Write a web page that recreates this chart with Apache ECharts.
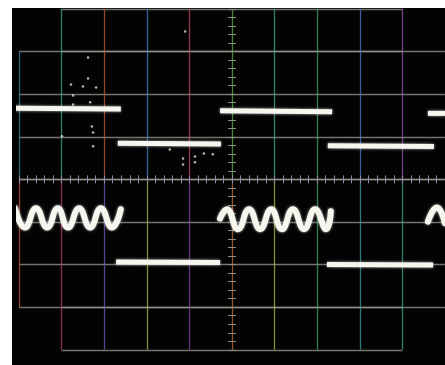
<!DOCTYPE html>
<html>
<head>
<meta charset="utf-8">
<script src="https://cdn.jsdelivr.net/npm/echarts@6/dist/echarts.min.js"></script>
<style>
	html, body { margin: 0; padding: 0; background: #fff; }
	#screen { position: absolute; left: 12px; top: 8px; width: 433px; height: 357px; background: #030303; }
	#main { position: absolute; left: 0; top: 0; width: 445px; height: 365px; }
</style>
</head>
<body>
<div id="screen"></div>
<div id="main"></div>
<script>
	// upper trace: square wave, one entry per visible flat segment (divisions)
	const squareX0 = [-5.12, -2.68, -0.28, 2.25, 4.60];
	const squareX1 = [-2.61, -0.26, 2.35, 4.74, 5.00];
	const squareY0 = [1.67, 0.85, 1.61, 0.79, 1.55];
	const squareY1 = [1.65, 0.83, 1.59, 0.77, 1.55];

	// lower trace: tone bursts (peaks / troughs)
	const burst1X = [-5.09, -4.86, -4.60, -4.34, -4.09, -3.85, -3.59, -3.33, -3.08, -2.82, -2.61];
	const burst1Y = [-0.68, -1.13, -0.68, -1.13, -0.68, -1.13, -0.68, -1.13, -0.68, -1.13, -0.70];
	const burst2X = [-0.28, -0.12, 0.14, 0.40, 0.66, 0.92, 1.17, 1.43, 1.69, 1.95, 2.21, 2.32];
	const burst2Y = [-0.92, -0.70, -1.17, -0.70, -1.17, -0.70, -1.17, -0.70, -1.17, -0.70, -1.17, -0.75];
	const burst3X = [4.60, 4.81, 5.00];
	const burst3Y = [-0.99, -0.66, -1.03];

	// lower trace: quiet level between bursts
	const restX0 = [-2.72, 2.23];
	const restX1 = [-0.28, 4.72];
	const restY0 = [-1.94, -2.00];
	const restY1 = [-1.95, -2.01];

	// stray phosphor specks
	const speckX = [-3.38, -3.78, -3.38, -3.50, -3.19, -3.73, -3.73, -3.33, -3.29, -3.26, -3.26, -3.99, -1.46, -1.15, -1.15, -0.87, -0.87, -0.66, -0.45, -1.10];
	const speckY = [2.86, 2.23, 2.37, 2.18, 2.16, 1.97, 1.76, 1.81, 1.24, 1.10, 0.78, 1.01, 0.70, 0.49, 0.35, 0.54, 0.40, 0.61, 0.59, 3.47];

	// graticule line colours (colour fringing of the photo)
	const topLineColors = ['#3fae84', '#c85a3c', '#4a86d0', '#c84a66', '#5cb04c', '#40b090', '#44a868', '#4c7ad0', '#9c58b4'];
	const upperLineColors = ['#3f86a8', '#3fae84', '#c85a3c', '#4a86d0', '#c84a66', '#5cb04c', '#40b090', '#44a868', '#4c7ad0', '#9c58b4', '#030303'];
	const lowerLineColors = ['#c05a40', '#b8406a', '#7a58c0', '#a8c048', '#8848a8', '#c8703c', '#b0c040', '#48a868', '#40a0a0', '#40a890', '#030303'];
	const bottomLineColors = ['#b8406a', '#7a58c0', '#a8c048', '#8848a8', '#c8703c', '#b0c040', '#48a868', '#40a0a0', '#40a890'];

	const D = 42.6;
	const hLine = '#9a9a92';
	const tickColor = '#9486aa';
	const vTickColor = '#8e8e88';

	let myChart = echarts.init(document.getElementById('main'));

	function xAx(grid, min, max, pos, colors, ticks) {
		return {
			type: 'value', gridIndex: grid, min: min, max: max, interval: 1, position: pos,
			axisLine: { show: false, onZero: false },
			axisLabel: { show: false },
			axisTick: { show: ticks, inside: true, length: 4, lineStyle: { color: tickColor, width: 1 } },
			minorTick: { show: ticks, splitNumber: 5, length: 4, lineStyle: { color: tickColor, width: 1 } },
			splitLine: { show: true, lineStyle: { color: colors, width: 1.3, opacity: 0.75 } }
		};
	}

	function yAx(grid, min, max, pos, offset, grid_lines) {
		return {
			type: 'value', gridIndex: grid, min: min, max: max, interval: 1, position: pos, offset: offset,
			axisLine: { show: false, onZero: false },
			axisLabel: { show: false },
			axisTick: { show: true, length: 4, lineStyle: { color: vTickColor, width: 1 } },
			minorTick: { show: true, splitNumber: 5, length: 4, lineStyle: { color: vTickColor, width: 1 } },
			splitLine: { show: grid_lines, lineStyle: { color: hLine, width: 1.4, opacity: 0.75 } }
		};
	}

	const trace = {
		color: '#f6f6ee',
		shadowBlur: 3,
		shadowColor: 'rgba(255,255,255,0.7)'
	};

	let series = [];
	for (let i = 0; i < squareX0.length; i++) {
		series.push({
			type: 'line', xAxisIndex: 1, yAxisIndex: 2, symbol: 'none', clip: false, silent: true,
			lineStyle: Object.assign({ width: 5 }, trace),
			data: [[squareX0[i], squareY0[i]], [squareX1[i], squareY1[i]]]
		});
	}
	[[burst1X, burst1Y], [burst2X, burst2Y], [burst3X, burst3Y]].forEach(function(b) {
		series.push({
			type: 'line', xAxisIndex: 2, yAxisIndex: 4, symbol: 'none', clip: false, silent: true, smooth: 0.5,
			lineStyle: Object.assign({ width: 6, cap: 'round' }, trace),
			data: b[0].map(function(x, k) { return [x, b[1][k]]; })
		});
	});
	for (let i = 0; i < restX0.length; i++) {
		series.push({
			type: 'line', xAxisIndex: 2, yAxisIndex: 4, symbol: 'none', clip: false, silent: true,
			lineStyle: Object.assign({ width: 5 }, trace),
			data: [[restX0[i], restY0[i]], [restX1[i], restY1[i]]]
		});
	}
	series.push({
		type: 'scatter', xAxisIndex: 1, yAxisIndex: 2, symbolSize: 2.5, silent: true, clip: false,
		itemStyle: { color: '#e8e4d8' },
		data: speckX.map(function(x, k) { return [x, speckY[k]]; })
	});

	myChart.setOption({
		animation: false,
		grid: [
			{ left: 19 + D, top: 9, width: 8 * D, height: D },
			{ left: 19, top: 9 + D, width: 10 * D, height: 3 * D },
			{ left: 19, top: 9 + 4 * D, width: 10 * D, height: 3 * D },
			{ left: 19 + D, top: 9 + 7 * D, width: 8 * D, height: D }
		],
		xAxis: [
			xAx(0, -4, 4, 'bottom', topLineColors, false),
			xAx(1, -5, 5, 'bottom', upperLineColors, true),
			xAx(2, -5, 5, 'top', lowerLineColors, true),
			xAx(3, -4, 4, 'top', bottomLineColors, false)
		],
		yAxis: [
			yAx(0, 3, 4, 'left', -4 * D, true),
			yAx(0, 3, 4, 'right', -4 * D, false),
			yAx(1, 0, 3, 'left', -5 * D, true),
			yAx(1, 0, 3, 'right', -5 * D, false),
			yAx(2, -3, 0, 'left', -5 * D, true),
			yAx(2, -3, 0, 'right', -5 * D, false),
			yAx(3, -4, -3, 'left', -4 * D, true),
			yAx(3, -4, -3, 'right', -4 * D, false)
		],
		series: series
	});
</script>
</body>
</html>
